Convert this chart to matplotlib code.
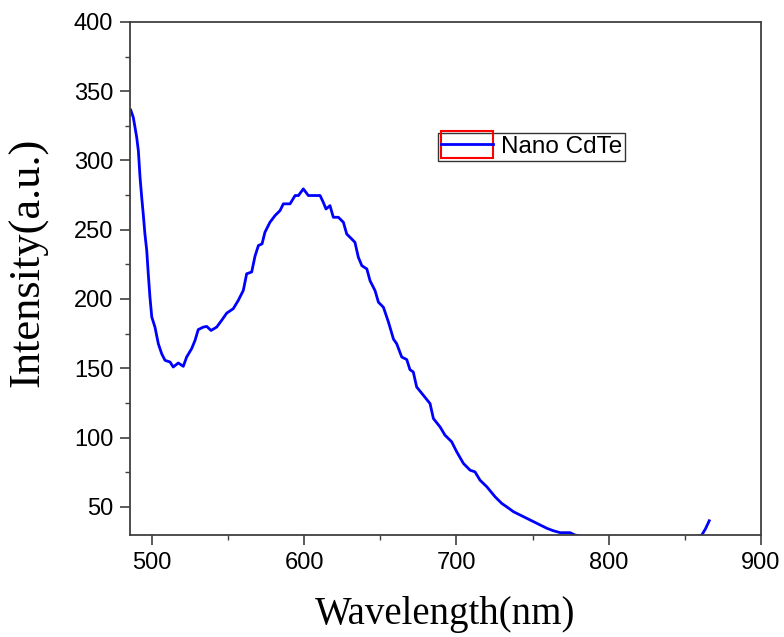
import matplotlib.pyplot as plt
import numpy as np
from matplotlib.legend_handler import HandlerLine2D
from matplotlib.patches import Rectangle

# PL spectrum (wavelength in nm, intensity in a.u.)
wavelength = [486.2, 487.9, 489.0, 490.1, 491.2, 492.3, 493.4, 494.4, 495.5, 496.7,
              497.7, 498.8, 500.0, 502.1, 504.3, 506.5, 508.7, 512.0, 514.1, 517.4,
              520.7, 522.9, 526.2, 528.4, 530.5, 533.8, 536.1, 538.9, 542.6, 545.9,
              549.2, 553.5, 556.8, 560.1, 562.3, 565.6, 567.8, 570.0, 572.4, 574.3,
              577.6, 580.9, 584.2, 586.4, 590.8, 594.1, 596.3, 599.5, 602.8, 610.5,
              612.6, 614.4, 617.0, 619.2, 622.5, 625.8, 628.0, 631.3, 633.4, 635.6,
              637.9, 641.2, 643.3, 646.6, 648.8, 652.1, 655.4, 658.7, 660.8, 664.1,
              667.4, 669.5, 671.7, 673.9, 678.3, 682.7, 684.9, 689.3, 692.5, 696.9,
              700.2, 704.6, 709.0, 712.2, 715.5, 720.0, 725.4, 729.8, 733.1, 737.5,
              741.9, 746.3, 750.7, 755.1, 759.5, 763.6, 768.1, 774.6, 777.9, 785.0,
              800.0, 820.0, 840.0, 855.0, 861.1, 863.5, 866.0]
intensity = [336.4, 331.0, 323.9, 316.7, 307.0, 287.8, 273.4, 261.4, 247.0, 235.0,
             218.2, 201.4, 187.0, 179.7, 167.7, 160.5, 155.7, 154.5, 150.9, 153.8,
             151.4, 158.1, 164.2, 170.1, 177.9, 179.7, 180.2, 177.3, 179.7, 184.6,
             189.8, 193.0, 199.0, 206.2, 218.2, 219.5, 231.0, 238.6, 239.8, 248.2,
             255.4, 260.2, 263.8, 268.7, 268.7, 274.7, 274.7, 279.5, 274.7, 274.7,
             269.8, 265.0, 267.4, 259.0, 259.0, 255.4, 246.9, 243.3, 240.9, 230.2,
             224.1, 221.7, 213.2, 206.0, 197.7, 194.0, 183.3, 171.0, 167.7, 158.1,
             156.3, 149.0, 147.3, 136.5, 130.5, 124.5, 113.7, 107.6, 101.7, 96.9,
             89.7, 81.3, 76.4, 75.2, 69.2, 64.4, 57.2, 52.4, 49.9, 46.4,
             44.0, 41.6, 39.2, 36.8, 34.4, 32.7, 31.3, 31.3, 29.6, 28.0,
             26.0, 24.0, 25.0, 27.5, 29.6, 34.0, 39.9]


class BoxedLineHandler(HandlerLine2D):
    # legend sample with a red box drawn round the line, like the original
    def create_artists(self, legend, orig_handle, xdescent, ydescent,
                       width, height, fontsize, trans):
        artists = super().create_artists(legend, orig_handle, xdescent, ydescent,
                                         width, height, fontsize, trans)
        pad = 0.2 * fontsize
        box = Rectangle((-xdescent, -ydescent - pad), width, height + 2 * pad,
                        facecolor='none', edgecolor='red', linewidth=1.5,
                        transform=trans)
        return [box] + list(artists)


if __name__ == '__main__':
    fig = plt.figure(figsize=(7.84, 6.37), dpi=100)
    ax = fig.add_axes([0.1658, 0.1601, 0.8049, 0.8054])

    line, = ax.plot(wavelength, intensity, color='#0000ff', linewidth=2.0,
                    label='Nano CdTe')

    ax.set_xlim(485.7, 900)
    ax.set_ylim(29.6, 400)
    ax.set_xticks([500, 600, 700, 800, 900])
    ax.set_xticks([550, 650, 750, 850], minor=True)
    ax.set_yticks([50, 100, 150, 200, 250, 300, 350, 400])
    ax.set_yticks(np.arange(75, 400, 50), minor=True)

    for sp in ax.spines.values():
        sp.set_color('#404040')
        sp.set_linewidth(1.3)

    ax.tick_params(which='major', direction='out', length=7, width=1.2,
                   color='#404040', labelsize=17, pad=5,
                   top=False, right=False)
    ax.tick_params(which='minor', direction='out', length=3.5, width=1.0,
                   color='#404040', top=False, right=False)
    for lab in ax.get_xticklabels() + ax.get_yticklabels():
        lab.set_fontfamily('Liberation Sans')

    ax.set_xlabel('Wavelength(nm)', fontfamily='Liberation Serif', fontsize=28,
                  labelpad=16)
    ax.set_ylabel('Intensity(a.u.)', fontfamily='Liberation Serif', fontsize=32)
    ax.yaxis.set_label_coords(-0.13, 0.532)

    leg = ax.legend(handles=[line], loc='upper left',
                    bbox_to_anchor=(0.488, 0.784), borderaxespad=0,
                    handler_map={line: BoxedLineHandler()},
                    prop={'family': 'Liberation Sans', 'size': 17.5},
                    frameon=True, fancybox=False, borderpad=0.13,
                    handlelength=2.15, handletextpad=0.3)
    leg.get_frame().set_edgecolor('black')
    leg.get_frame().set_linewidth(1.0)

    plt.savefig('out.png', dpi=100)
